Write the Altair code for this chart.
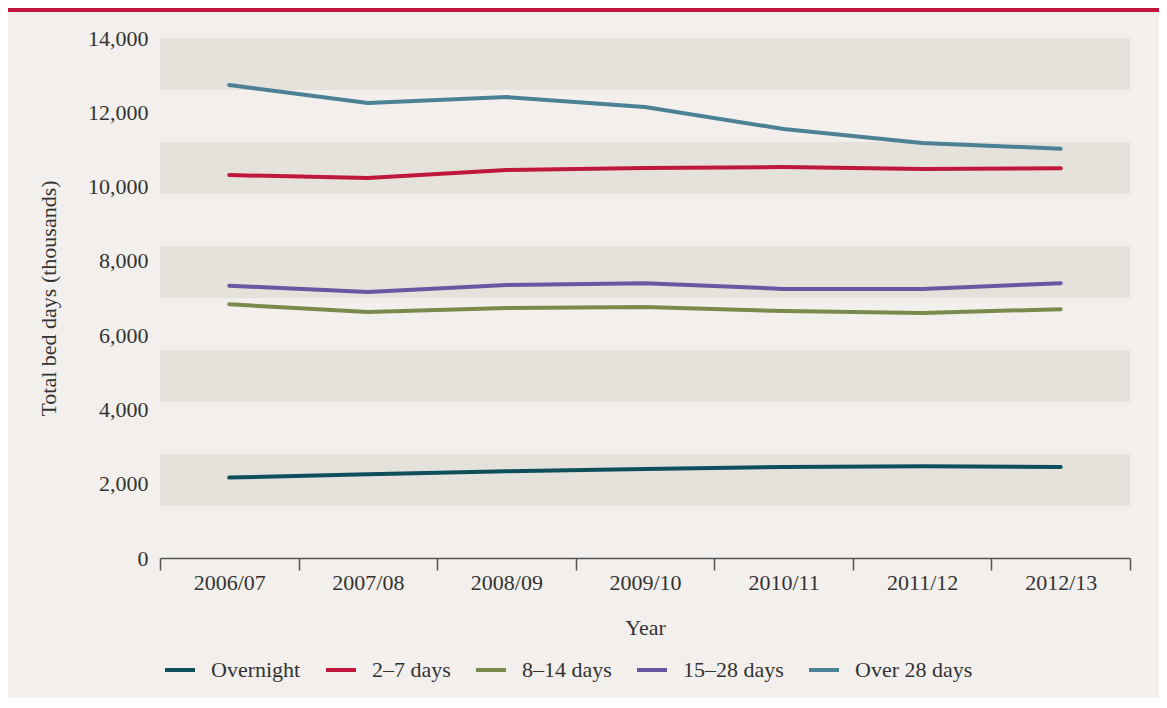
import altair as alt
import pandas as pd

years = ["2006/07", "2007/08", "2008/09", "2009/10", "2010/11", "2011/12", "2012/13"]
series = ["Overnight", "2–7 days", "8–14 days", "15–28 days", "Over 28 days"]
overnight = [2165, 2255, 2335, 2395, 2450, 2470, 2450]
d2_7 = [10310, 10230, 10445, 10500, 10525, 10470, 10490]
d8_14 = [6830, 6625, 6730, 6755, 6650, 6596, 6700]
d15_28 = [7330, 7160, 7350, 7400, 7245, 7245, 7400]
over28 = [12735, 12250, 12410, 12140, 11550, 11175, 11020]
colors = ["#0f4f5c", "#c0183d", "#7a8a4b", "#6b56a1", "#4b8095"]
band_lo = [12600, 9800, 7000, 4200, 1400]
band_hi = [14000, 11200, 8400, 5600, 2800]
ytick_values = [0, 2000, 4000, 6000, 8000, 10000, 12000, 14000]

rows = []
for name, vals in zip(series, [overnight, d2_7, d8_14, d15_28, over28]):
    for y, v in zip(years, vals):
        rows.append({"Year": y, "Series": name, "Value": v})
df = pd.DataFrame(rows)
bands = pd.DataFrame({"lo": band_lo, "hi": band_hi})

FONT = "Liberation Serif"
TXT = "#333333"
FS = 22

yscale = alt.Scale(domain=[0, 14000])

band_layer = alt.Chart(bands).mark_rect(color="#e5e1db").encode(
    y=alt.Y("lo:Q", scale=yscale),
    y2="hi:Q",
)

lines = alt.Chart(df).mark_line(strokeWidth=4, strokeCap="round", strokeJoin="round").encode(
    x=alt.X("Year:N", sort=years, title="Year",
            axis=alt.Axis(tickBand="extent", labelAngle=0, tickSize=12, tickColor="#555",
                          domainColor="#555", domainWidth=1.5, tickWidth=1.5,
                          labelPadding=2, titlePadding=24, grid=False)),
    y=alt.Y("Value:Q", scale=yscale, title="Total bed days (thousands)",
            axis=alt.Axis(values=ytick_values,
                          format=",.0f", domain=False, ticks=False, grid=False,
                          labelPadding=12, titlePadding=27)),
    color=alt.Color("Series:N", sort=series,
                    scale=alt.Scale(domain=series, range=colors),
                    legend=alt.Legend(title=None, orient="none", legendX=3, legendY=615,
                                      direction="horizontal", symbolType="stroke",
                                      symbolSize=900, symbolStrokeWidth=4,
                                      labelFont=FONT, labelFontSize=FS, labelColor=TXT,
                                      labelOffset=14, columnPadding=17)),
    order=alt.Order("Year:N"),
)

topline = alt.Chart(pd.DataFrame({"a": [0]})).mark_rule(color="#c0183d", strokeWidth=4).encode(
    x=alt.value(-152), x2=alt.value(999), y=alt.value(-28)
)

chart = alt.layer(band_layer, lines, topline).properties(
    width=970, height=520,
    autosize=alt.AutoSizeParams(type="none"),
    padding={"left": 152, "top": 30, "right": 29, "bottom": 140},
    background="#f2efec",
).configure(font=FONT).configure_view(stroke=None).configure_axis(
    labelFont=FONT, titleFont=FONT, labelFontSize=FS, titleFontSize=FS,
    labelColor=TXT, titleColor=TXT, titleFontWeight="normal",
).configure_legend(labelFont=FONT, labelFontSize=FS, labelColor=TXT)

chart.save("out.html", embed_options={"renderer": "svg", "actions": False})
